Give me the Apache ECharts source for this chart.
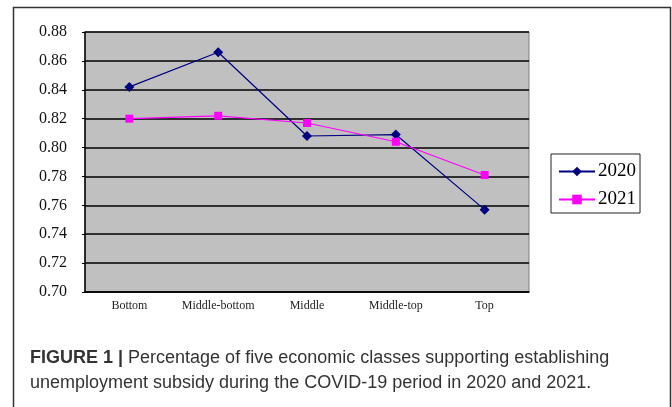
<!DOCTYPE html>
<html>
<head>
<meta charset="utf-8">
<script src="https://cdn.jsdelivr.net/npm/echarts@6/dist/echarts.min.js"></script>
<style>
html,body{margin:0;padding:0;background:#fff;}
#chart{width:672px;height:407px;}
</style>
</head>
<body>
<div id="chart"></div>
<script>
var categories = ['Bottom', 'Middle-bottom', 'Middle', 'Middle-top', 'Top'];
var seriesNames = ['2020', '2021'];
var values2020 = [0.842, 0.866, 0.808, 0.809, 0.757];
var values2021 = [0.820, 0.822, 0.817, 0.804, 0.781];
var yMin = 0.70, yMax = 0.88, yStep = 0.02;
var captionBold = 'FIGURE 1 |';
var captionLine1 = ' Percentage of five economic classes supporting establishing';
var captionLine2 = 'unemployment subsidy during the COVID-19 period in 2020 and 2021.';

var chart = echarts.init(document.getElementById('chart'), null, {renderer: 'canvas'});
var serif = '"Liberation Serif", "DejaVu Serif", serif';
var sans = '"Liberation Sans", Arial, sans-serif';

chart.setOption({
  animation: false,
  backgroundColor: '#ffffff',
  grid: {left: 85, right: 143, top: 32, bottom: 115, show: true, backgroundColor: '#c0c0c0', borderColor: '#808080', borderWidth: 1},
  legend: {
    orient: 'vertical', left: 551, top: 154,
    padding: [8, 4, 4, 7], itemGap: 9,
    itemWidth: 36, itemHeight: 12,
    borderColor: '#222', borderWidth: 1, backgroundColor: '#fff',
    textStyle: {fontFamily: serif, fontSize: 19, color: '#000', padding: [0,0,0,-2]},
    data: seriesNames
  },
  xAxis: {
    type: 'category', data: categories, boundaryGap: true,
    axisLine: {show: true, lineStyle: {color: '#000', width: 1.5}},
    axisTick: {show: false},
    axisLabel: {interval: 0, fontFamily: serif, fontSize: 12, color: '#222', margin: 8}
  },
  yAxis: {
    type: 'value', min: yMin, max: yMax, interval: yStep,
    axisLine: {show: true, lineStyle: {color: '#000', width: 1.5}},
    axisTick: {show: true, length: 3, lineStyle: {color: '#000'}},
    splitLine: {show: true, lineStyle: {color: '#000', width: 1.5}},
    axisLabel: {fontFamily: serif, fontSize: 16, color: '#111', margin: 18,
      formatter: function (v) { return v.toFixed(2); }}
  },
  series: [
    {name: seriesNames[0], type: 'line', data: values2020, symbol: 'diamond', symbolSize: 10,
      lineStyle: {color: '#000080', width: 1.2}, itemStyle: {color: '#000080'}},
    {name: seriesNames[1], type: 'line', data: values2021, symbol: 'rect', symbolSize: 8,
      lineStyle: {color: '#ff00ff', width: 1.2}, itemStyle: {color: '#ff00ff'}}
  ],
  graphic: [
    {type: 'rect', shape: {x: 13.5, y: 7.5, width: 657, height: 420}, style: {fill: 'none', stroke: '#333', lineWidth: 1.5}, silent: true},
    {type: 'text', left: 30, top: 349, style: {
      text: '{b|' + captionBold + '}{n|' + captionLine1 + '}\n{n|' + captionLine2 + '}',
      rich: {
        b: {fontFamily: sans, fontSize: 18, fontWeight: 'bold', fill: '#333', lineHeight: 25},
        n: {fontFamily: sans, fontSize: 18, fill: '#333', lineHeight: 25}
      }
    }}
  ]
});
</script>
</body>
</html>
